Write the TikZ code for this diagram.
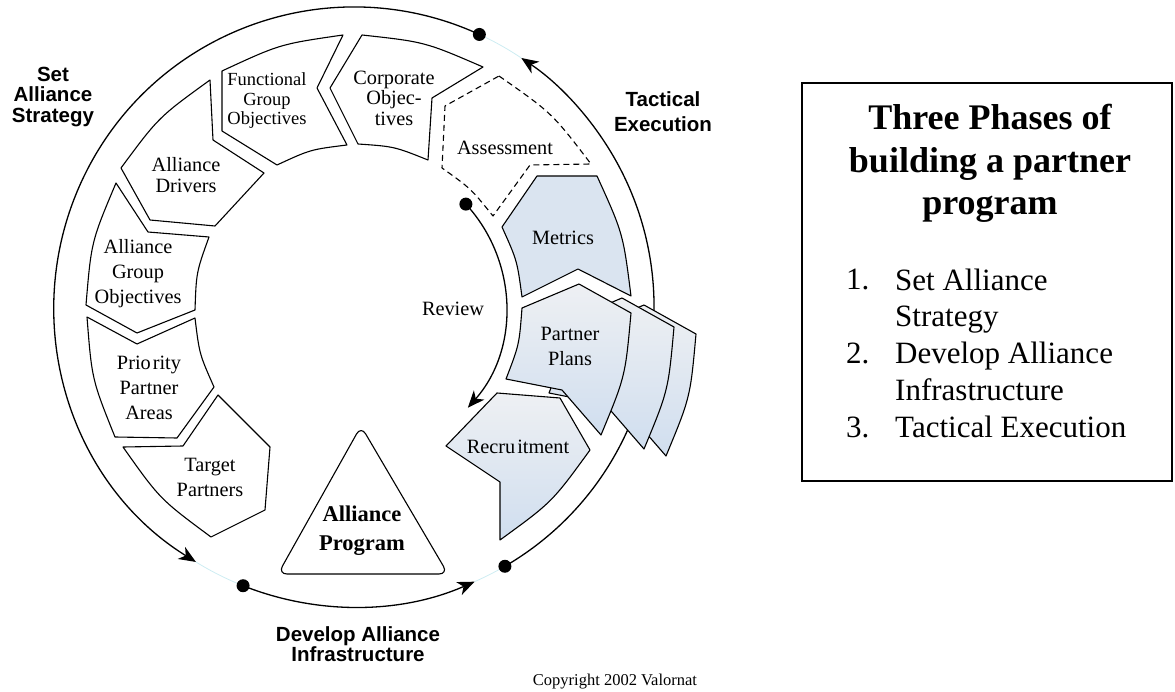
\documentclass[tikz,border=0pt]{standalone}
\usepackage{fontspec}
\setmainfont{Liberation Serif}
\newfontfamily\phasefont{Liberation Sans}
\usetikzlibrary{arrows.meta}

\tikzset{
  seg/.style={draw, line width=1.1pt, line join=round, fill=white},
  segblue/.style={seg, top color={rgb,255:red,238;green,240;blue,243}, bottom color={rgb,255:red,208;green,222;blue,239}},
  ring/.style={line width=1.3pt},
  arrowend/.style={-{Stealth[length=17pt,width=14pt,inset=5pt]}},
  gap/.style={line width=0.8pt, draw={rgb,255:red,205;green,236;blue,242}},
  txt/.style={font=\fontsize{20.3}{20.5}\selectfont, align=center},
  txtw/.style={font=\fontsize{20.3}{25}\selectfont, align=center},
  phase/.style={font=\phasefont\bfseries\fontsize{20.5}{20.5}\selectfont, align=center},
  item/.style={font=\fontsize{31}{36.75}\selectfont, inner sep=0pt},
}

\begin{document}
\begin{tikzpicture}[x=1pt,y=1pt,yscale=-1,xscale=1]
\useasboundingbox (0,0) rectangle (1175,692);
\coordinate (hub) at (354,307);

%Shape: ring of the three phases
\path (hub) ++(-65.3:300) coordinate (dotset);
\path (hub) ++(-248.3:300) coordinate (dotdev);
\path (hub) ++(-300.2:300) coordinate (dottac);
\path (hub) ++(-42.6:152) coordinate (dotrev);
\draw [ring, arrowend] (dotset) arc[start angle=-65.3, end angle=-238.2, radius=300] coordinate (tipset);
\draw [ring, arrowend] (dotdev) arc[start angle=-248.3, end angle=-293.7, radius=300] coordinate (tipdev);
\draw [ring, arrowend] (dottac) arc[start angle=-300.2, end angle=-416.1, radius=300] coordinate (tiptac);
\draw [ring, arrowend] (dotrev) arc[start angle=-42.6, end angle=41.5, radius=152];
\draw [gap] (tiptac) arc[start angle=-56.1, end angle=-65.3, radius=300];
\draw [gap] (tipset) arc[start angle=-238.2, end angle=-248.3, radius=300];
\draw [gap] (tipdev) arc[start angle=-293.7, end angle=-300.2, radius=300];
\foreach \d in {dotset,dotdev,dottac,dotrev} \fill (\d) circle[radius=6.5];

%Shape: Functional Group Objectives
\draw [seg] (222,71) .. controls (280,44.1) .. (343,35) -- (317,88) -- (347,145) .. controls (310.5,149.5) .. (277,165) -- (222,131) -- cycle;
%Shape: Corporate Objectives
\draw [seg] (362,35) .. controls (424.9,41.9) .. (483,67) -- (432,98) -- (428,160) .. controls (394.3,146.5) .. (358,144) -- (330,88) -- cycle;
%Shape: Alliance Drivers
\draw [seg] (210,80) -- (213,140) -- (264,173) -- (215,226) -- (150,220) -- (121,168) .. controls (158.6,117.2) .. cycle;
%Shape: Alliance Group Objectives
\draw [seg] (116,183) -- (148,232) -- (209,237) .. controls (196.3,272.3) .. (195,310) -- (137,333) -- (86,305) .. controls (91.3,241.6) .. cycle;
%Shape: Priority Partner Areas
\draw [seg] (87,317) -- (137,344) -- (195,318) .. controls (199.4,354.1) .. (214,387) -- (177,438) -- (115,437) .. controls (91.9,379.5) .. cycle;
%Shape: Target Partners
\draw [seg] (123,447) -- (183,446) -- (218,395) -- (270,447) -- (265,510) -- (211,537) .. controls (159.9,499.1) .. cycle;
%Shape: Alliance Program
\draw [seg, rounded corners=9pt] (363,574) -- (278,574) -- (361,426) -- (448,574) -- cycle;
%Shape: Assessment
\draw [seg, dashed, dash pattern={on 6pt off 4pt}] (499,76) .. controls (552.1,113.1) .. (591,164) -- (530,165) -- (493,216) .. controls (470.8,188.5) .. (442,168) -- (445,106) -- cycle;
%Shape: Metrics
\draw [seg, fill={rgb,255:red,218;green,228;blue,240}] (537,176) -- (597,176) .. controls (623.1,233.5) .. (631,296) -- (578,269) -- (522,297) .. controls (517.1,260.5) .. (502,227) -- cycle;
%Shape: Partner Plans, stacked copies behind
\foreach \dx/\dy in {65/21,43/14}
  \draw [segblue, shift={(\dx,\dy)}] (579,284) -- (631,313) .. controls (625.3,376.4) .. (601,435) -- (562,390) -- (506,379) .. controls (519.2,344.7) .. (522,308) -- cycle;
\draw [segblue] (579,284) -- (631,313) .. controls (625.3,376.4) .. (601,435) -- (562,390) -- (506,379) .. controls (519.2,344.7) .. (522,308) -- cycle;
%Shape: Recruitment
\draw [segblue] (497,393) -- (560,398) -- (590,450) .. controls (552.1,502.1) .. (500,540) -- (500,482) -- (446,446) -- cycle;

% Text Node
\draw (267,101) node (fgo) [txt, font=\fontsize{18.5}{19.5}\selectfont] {Functional\\Group\\Objectives};
% Text Node
\draw (394,98) node (corp) [txt] {Corporate\\Objec-\\tives};
% Text Node
\draw (505,148) node (assess) [txt] {Assessment};
% Text Node
\draw (563,238) node (metrics) [txt] {Metrics};
% Text Node
\draw (570,346) node (plans) [txtw] {Partner\\Plans};
% Text Node
\draw (518,447) node (recruit) [txt] {Recru\kern2pt itment};
% Text Node
\draw (453,309) node (review) [txt] {Review};
% Text Node
\draw (186,175) node (drivers) [txt] {Alliance\\Drivers};
% Text Node
\draw (138,274) node (ago) [txtw] {Alliance\\Group\\Objectives};
% Text Node
\draw (149,388) node (ppa) [txtw] {Prio\kern2pt rity\\Partner\\Areas};
% Text Node
\draw (210,477) node (target) [txtw] {Target\\Partners};
% Text Node
\draw (362,531) node (program) [align=center, font=\bfseries\fontsize{22.5}{29}\selectfont] {Alliance\\Program};
% Text Node
\draw (53,97) node (setlbl) [phase] {Set\\Alliance\\Strategy};
% Text Node
\draw (663,112) node (tactlbl) [phase, font=\phasefont\bfseries\fontsize{20.5}{25}\selectfont] {Tactical\\Execution};
% Text Node
\draw (358,644) node (devlbl) [phase] {Develop Alliance\\Infrastructure};
% Text Node
\draw (615,682) node (copyr) [font=\fontsize{16.5}{18}\selectfont] {Copyright 2002 Valornat};

%Shape: Rectangle
\draw [line width=1.4pt] (802,83) rectangle (1172,481);
% Text Node
\draw (990,215) node (title) [anchor=base, align=center, inner sep=0pt, font=\bfseries\fontsize{36}{42.5}\selectfont] {Three Phases of\\building a partner\\program};
% Text Node
\draw (846,290) node (num1) [item, anchor=base west] {1.};
\draw (895,327) node (item1) [item, anchor=base west, align=left] {Set Alliance\\Strategy};
\draw (846,363) node (num2) [item, anchor=base west] {2.};
\draw (895,400) node (item2) [item, anchor=base west, align=left] {Develop Alliance\\Infrastructure};
\draw (846,437) node (num3) [item, anchor=base west] {3.};
\draw (895,437) node (item3) [item, anchor=base west] {Tactical Execution};

\end{tikzpicture}
\end{document}
